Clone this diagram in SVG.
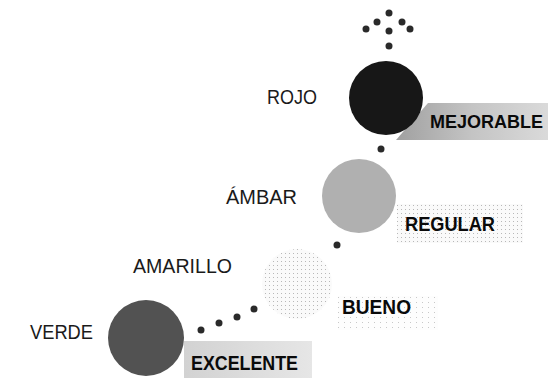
<svg xmlns="http://www.w3.org/2000/svg" width="548" height="378" viewBox="0 0 548 378">
<defs>
<linearGradient id="gMej" x1="0" y1="0" x2="1" y2="0">
<stop offset="0" stop-color="#a0a0a0"/>
<stop offset="0.5" stop-color="#c4c4c4"/>
<stop offset="1" stop-color="#dadada"/>
</linearGradient>
<linearGradient id="gExc" x1="0" y1="0" x2="1" y2="0">
<stop offset="0" stop-color="#d2d2d2"/>
<stop offset="1" stop-color="#e6e6e6"/>
</linearGradient>
<pattern id="pLight" width="4" height="4" patternUnits="userSpaceOnUse">
<rect width="4" height="4" fill="#fafafa"/>
<rect x="1" y="1" width="1" height="1" fill="#b8b8b8"/>
</pattern>
<pattern id="pFaint" width="6" height="5" patternUnits="userSpaceOnUse">
<rect width="6" height="5" fill="#fdfdfd"/>
<rect x="2" y="2" width="1" height="1" fill="#c8c8c8"/>
</pattern>
</defs>
<style>
.lbl{font-family:"Liberation Sans",Arial,sans-serif;font-size:20px;fill:#1a1a1a;}
.tag{font-family:"Liberation Sans",Arial,sans-serif;font-size:20px;font-weight:bold;fill:#0a0a0a;}
.dot{fill:#2a2a2a;}
</style>
<rect width="548" height="378" fill="#fff"/>
<g id="connectors">
<circle class="dot" cx="389" cy="13" r="3.5"/>
<circle class="dot" cx="377" cy="22" r="3.5"/>
<circle class="dot" cx="402" cy="22" r="3.5"/>
<circle class="dot" cx="366" cy="29" r="3.5"/>
<circle class="dot" cx="389" cy="31" r="3.5"/>
<circle class="dot" cx="410" cy="29" r="3.5"/>
<circle class="dot" cx="389" cy="46" r="3.5"/>
<circle class="dot" cx="381" cy="149" r="3.5"/>
<circle class="dot" cx="337" cy="245" r="3.5"/>
<circle class="dot" cx="254" cy="309" r="3.5"/>
<circle class="dot" cx="237" cy="317" r="3.5"/>
<circle class="dot" cx="219" cy="323" r="3.5"/>
<circle class="dot" cx="201" cy="330" r="3.5"/>
</g>
<g id="rojo">
<polygon points="396,140 428,103 548,103 548,140" fill="url(#gMej)"/>
<circle cx="386" cy="98" r="37" fill="#171717"/>
<text class="lbl" x="267" y="104" textLength="50" lengthAdjust="spacingAndGlyphs">ROJO</text>
<text class="tag" x="430" y="128" style="font-size:18px">MEJORABLE</text>
</g>
<g id="ambar">
<rect x="397" y="204" width="126" height="39" fill="url(#pLight)"/>
<circle cx="359" cy="196" r="37" fill="#b0b0b0"/>
<text class="lbl" x="226" y="204" textLength="71" lengthAdjust="spacingAndGlyphs">ÁMBAR</text>
<text class="tag" x="405" y="231" textLength="90" lengthAdjust="spacingAndGlyphs">REGULAR</text>
</g>
<g id="amarillo">
<rect x="338" y="296" width="100" height="34" fill="url(#pFaint)"/>
<circle cx="297" cy="284" r="35" fill="url(#pLight)"/>
<text class="lbl" x="133" y="273" textLength="99" lengthAdjust="spacingAndGlyphs">AMARILLO</text>
<text class="tag" x="342" y="314" textLength="69" lengthAdjust="spacingAndGlyphs">BUENO</text>
</g>
<g id="verde">
<rect x="184" y="341" width="128" height="37" fill="url(#gExc)"/>
<circle cx="146" cy="338" r="38" fill="#525252"/>
<text class="lbl" x="30" y="339" textLength="63" lengthAdjust="spacingAndGlyphs">VERDE</text>
<text class="tag" x="191" y="370" textLength="107" lengthAdjust="spacingAndGlyphs">EXCELENTE</text>
</g>
</svg>
